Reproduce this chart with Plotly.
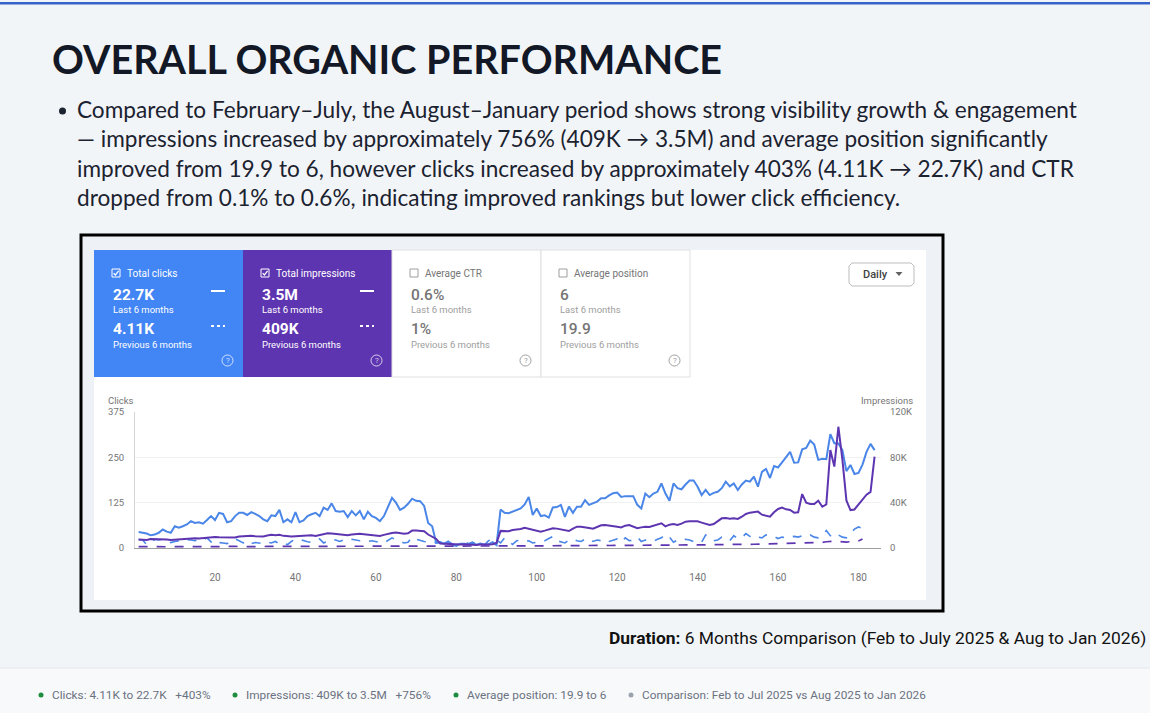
import plotly.graph_objects as go

W, H = 1150, 713

# ---- data (daily values) ----
clicks_now = [44, 42, 40, 35, 37, 42, 51, 45, 42, 60, 56, 60, 65, 74, 69, 71, 67, 77, 88, 77,
              97, 94, 71, 74, 88, 97, 97, 91, 99, 94, 88, 79, 74, 90, 88, 105, 71, 79, 71, 99,
              71, 76, 88, 93, 97, 88, 111, 105, 123, 102, 100, 102, 85, 102, 90, 102, 79, 100, 88, 83,
              74, 88, 111, 138, 125, 105, 111, 122, 136, 130, 129, 116, 69, 60, 14, 16, 12, 18, 9, 6,
              12, 12, 9, 14, 9, 12, 9, 10, 16, 8, 106, 97, 96, 100, 105, 109, 120, 141, 91, 109,
              88, 90, 84, 112, 113, 119, 86, 114, 97, 114, 114, 132, 119, 123, 128, 137, 137, 145, 151, 153,
              141, 143, 143, 143, 119, 109, 150, 140, 150, 155, 178, 150, 130, 178, 165, 162, 175, 186, 186, 169,
              146, 160, 146, 152, 155, 165, 183, 170, 178, 160, 175, 186, 183, 197, 169, 210, 218, 193, 226, 222,
              236, 252, 265, 235, 236, 272, 276, 296, 285, 243, 246, 245, 314, 289, 288, 270, 212, 229, 204, 207,
              230, 265, 287, 270]

impr_now_k = [7.4, 7.4, 7.1, 8.0, 8.0, 7.7, 7.4, 7.4, 7.1, 7.4, 7.7, 8.0, 8.3, 8.9, 8.6, 8.3, 8.6, 8.9, 9.8, 9.8,
              9.5, 9.5, 9.2, 8.9, 9.2, 10.1, 10.4, 10.7, 10.7, 10.4, 10.1, 10.1, 11.0, 11.6, 11.3, 11.6, 10.7, 10.1, 10.1, 10.4,
              10.7, 10.4, 10.7, 11.3, 10.7, 11.3, 12.5, 13.0, 12.8, 12.5, 12.2, 11.3, 11.3, 11.9, 12.5, 12.5, 12.2, 11.9, 11.3, 10.7,
              10.7, 11.6, 12.5, 13.3, 13.6, 13.0, 12.5, 13.0, 15.4, 15.4, 15.1, 14.8, 11.9, 10.1, 8.0, 3.9, 3.6, 3.3, 3.3, 3.0,
              3.0, 3.3, 3.0, 3.0, 2.7, 3.0, 2.7, 3.0, 3.3, 4.5, 15.1, 15.1, 14.8, 15.9, 16.2, 16.8, 17.9, 17.1, 16.5, 15.6,
              14.4, 15.3, 16.5, 17.4, 17.1, 16.2, 15.6, 15.0, 17.1, 18.8, 18.8, 18.5, 17.7, 17.0, 18.5, 20.0, 20.3, 20.0, 19.4, 18.8,
              18.2, 19.7, 20.3, 18.5, 17.4, 18.2, 18.8, 18.5, 19.4, 20.3, 21.8, 19.1, 20.6, 21.2, 20.3, 21.5, 23.2, 23.5, 23.8, 23.5,
              22.4, 21.5, 20.3, 21.2, 23.5, 26.2, 26.5, 25.9, 26.2, 25.6, 27.6, 30.0, 31.2, 31.5, 32.1, 29.4, 28.5, 27.6, 31.5, 34.4,
              35.6, 34.1, 33.5, 31.2, 31.5, 47.6, 40.0, 38.8, 38.8, 41.7, 36.4, 38.5, 86.5, 71.8, 107.0, 78.0, 42.0, 33.5, 34.0, 38.0,
              42.5, 47.0, 49.5, 80.6]

clicks_prev = [23, 22, 9, 14, 24, 22, 24, 20, 15, 18, 20, 22, 23, 22, 20, 24, 22, 28, 17, 9,
               15, 14, 12, 18, 25, 20, 14, 20, 12, 15, 13, 12, 16, 14, 18, 12, 15, 9, 18, 25,
               24, 20, 17, 16, 20, 25, 14, 20, 24, 22, 18, 22, 20, 24, 22, 20, 22, 18, 20, 17,
               15, 14, 20, 28, 22, 18, 14, 16, 30, 24, 20, 18, 16, 18, 14, 16, 12, 20, 10, 8,
               14, 18, 12, 16, 10, 14, 8, 20, 24, 22, 14, 28, 18, 10, 20, 22, 18, 20, 14, 16,
               18, 20, 26, 32, 20, 18, 14, 22, 25, 20, 18, 24, 26, 18, 22, 20, 24, 18, 22, 25,
               16, 28, 20, 22, 30, 18, 22, 20, 18, 24, 28, 38, 30, 16, 22, 20, 24, 22, 18, 20,
               16, 36, 28, 20, 22, 30, 24, 20, 34, 26, 28, 40, 32, 26, 30, 28, 36, 34, 32, 26,
               30, 28, 30, 32, 30, 34, 32, 36, 30, 28, 36, 48, 34, 28, 36, 30, 28, 40, 52, 58,
               54]

impr_prev_k = [1.2, 1.1, 1.0, 1.1, 1.2, 1.3, 1.2, 1.1, 1.1, 1.2, 1.3, 1.2, 1.2, 1.1, 1.2, 1.3, 1.3, 1.2, 1.3, 1.2,
               1.1, 1.2, 1.3, 1.3, 1.4, 1.3, 1.2, 1.3, 1.4, 1.3, 1.2, 1.3, 1.4, 1.4, 1.3, 1.3, 1.2, 1.3, 1.4, 1.4,
               1.5, 1.4, 1.3, 1.4, 1.5, 1.5, 1.4, 1.5, 1.6, 1.5, 1.4, 1.5, 1.5, 1.6, 1.5, 1.5, 1.4, 1.5, 1.6, 1.6,
               1.5, 1.5, 1.6, 1.7, 1.6, 1.6, 1.5, 1.6, 1.7, 1.7, 1.6, 1.6, 1.5, 1.6, 1.5, 1.4, 1.4, 1.3, 1.3, 1.2,
               1.2, 1.3, 1.3, 1.4, 1.4, 1.5, 1.5, 1.6, 1.7, 1.8, 1.7, 1.8, 1.9, 1.8, 1.7, 1.8, 1.9, 1.9, 1.8, 1.9,
               2.0, 1.9, 1.9, 2.0, 2.1, 2.0, 2.0, 2.1, 2.1, 2.2, 2.1, 2.1, 2.2, 2.2, 2.1, 2.2, 2.3, 2.2, 2.2, 2.3,
               2.3, 2.4, 2.3, 2.3, 2.4, 2.5, 2.4, 2.4, 2.5, 2.5, 2.6, 2.5, 2.5, 2.6, 2.7, 2.6, 2.6, 2.7, 2.8, 2.7,
               2.7, 2.8, 2.9, 2.8, 2.9, 3.0, 3.0, 3.1, 3.0, 3.1, 3.2, 3.3, 3.2, 3.3, 3.4, 3.5, 3.4, 3.6, 3.7, 3.8,
               3.9, 4.0, 4.1, 4.2, 4.3, 4.4, 4.3, 4.5, 4.7, 4.8, 5.0, 5.5, 5.9, 6.0, 5.8, 5.4, 5.2, 5.6, 6.0, 6.2,
               8.0]

x_ticks = [20, 40, 60, 80, 100, 120, 140, 160, 180]
clicks_ticks = [0, 125, 250, 375]
impr_ticks = [0, 40000, 80000, 120000]
impr_tick_text = ["0", "40K", "80K", "120K"]

cards = [
    # label, current, previous, bg, checked
    ("Total clicks", "22.7K", "4.11K", "#4285f4", True),
    ("Total impressions", "3.5M", "409K", "#5e35b1", True),
    ("Average CTR", "0.6%", "1%", "#ffffff", False),
    ("Average position", "6", "19.9", "#ffffff", False),
]

summary_lines = [
    "Compared to February–July, the August–January period shows strong visibility growth & engagement",
    "— impressions increased by approximately 756% (409K → 3.5M) and average position significantly",
    "improved from 19.9 to 6, however clicks increased by approximately 403% (4.11K → 22.7K) and CTR",
    "dropped from 0.1% to 0.6%, indicating improved rankings but lower click efficiency.",
]

footer_items = [
    ("Clicks: 4.11K to 22.7K   +403%", "#1e8e3e"),
    ("Impressions: 409K to 3.5M   +756%", "#1e8e3e"),
    ("Average position: 19.9 to 6", "#1e8e3e"),
    ("Comparison: Feb to Jul 2025 vs Aug 2025 to Jan 2026", "#9aa3ad"),
]


def px(x):
    return x / W


def py(y):
    return 1 - y / H


def path(points, close=False):
    s = "M " + " L ".join(f"{px(a):.5f},{py(b):.5f}" for a, b in points)
    return s + (" Z" if close else "")


days_now = list(range(1, len(clicks_now) + 1))
days_prev = list(range(1, len(clicks_prev) + 1))

fig = go.Figure()
fig.add_trace(go.Scatter(x=days_prev, y=[v * 1000 for v in impr_prev_k], yaxis="y2", mode="lines",
                         line=dict(color="#5e35b1", width=1.7, dash="dash")))
fig.add_trace(go.Scatter(x=days_prev, y=clicks_prev, mode="lines",
                         line=dict(color="#4a86e8", width=1.6, dash="dash")))
fig.add_trace(go.Scatter(x=days_now, y=[v * 1000 for v in impr_now_k], yaxis="y2", mode="lines",
                         line=dict(color="#5e35b1", width=2)))
fig.add_trace(go.Scatter(x=days_now, y=clicks_now, mode="lines",
                         line=dict(color="#4a86e8", width=2)))

shapes = []
ann = []


def rect(x0, y0, x1, y1, fill, line=None, lw=0, layer="below"):
    shapes.append(dict(type="rect", xref="paper", yref="paper", x0=px(x0), x1=px(x1), y0=py(y1), y1=py(y0),
                       fillcolor=fill, line=dict(color=line or fill, width=lw), layer=layer))


def text(x, y, s, size, color, anchor="left", family="Roboto, sans-serif", weight=None):
    f = dict(size=size, color=color, family=family)
    if weight:
        f["weight"] = weight
    ann.append(dict(x=px(x), y=py(y), xref="paper", yref="paper", text=s, showarrow=False,
                    xanchor=anchor, yanchor="middle", font=f))


# page
rect(0, 2, W, 4.5, "#3563c9")
rect(0, 668, W, H, "#f8f9fb")
shapes.append(dict(type="line", xref="paper", yref="paper", x0=0, x1=1, y0=py(668), y1=py(668),
                   line=dict(color="#e3e7ec", width=1), layer="below"))

# screenshot frame
rect(81, 235, 943, 611, "#eef1f5", "#000000", 3)
rect(94, 250, 926, 600, "#ffffff")

# metric cards
for i, (label, cur, prev, bg, checked) in enumerate(cards):
    x0 = 94 + i * 149
    fg = "#ffffff" if checked else "#757575"
    sub = "#ffffff" if checked else "#9e9e9e"
    rect(x0, 250, x0 + 149, 377, bg, "#e0e0e0" if not checked else bg, 1 if not checked else 0)
    # checkbox
    cb = "#ffffff" if checked else "#9e9e9e"
    rect(x0 + 18, 269, x0 + 26, 277, "rgba(0,0,0,0)", cb, 1, layer="above")
    if checked:
        shapes.append(dict(type="path", xref="paper", yref="paper",
                           path=path([(x0 + 19.6, 273.2), (x0 + 21.4, 275), (x0 + 24.6, 271)]),
                           line=dict(color="#ffffff", width=1.2), layer="above"))
    text(x0 + 31, 273, label, 10, fg)
    text(x0 + 17, 295, cur, 15.5, fg, weight=700 if checked else 500)
    text(x0 + 17, 309, "Last 6 months", 9.5, sub)
    text(x0 + 17, 329, prev, 15.5, fg, weight=700 if checked else 500)
    text(x0 + 17, 344, "Previous 6 months", 9.5, sub)
    if checked:
        shapes.append(dict(type="line", xref="paper", yref="paper", x0=px(x0 + 117), x1=px(x0 + 131),
                           y0=py(291), y1=py(291), line=dict(color="#ffffff", width=2), layer="above"))
        shapes.append(dict(type="line", xref="paper", yref="paper", x0=px(x0 + 117), x1=px(x0 + 131),
                           y0=py(326), y1=py(326), line=dict(color="#ffffff", width=2, dash="dot"),
                           layer="above"))
    qc = "rgba(255,255,255,0.75)" if checked else "#9e9e9e"
    shapes.append(dict(type="circle", xref="paper", yref="paper", x0=px(x0 + 128), x1=px(x0 + 139),
                       y0=py(366), y1=py(355), line=dict(color=qc, width=1), layer="above"))
    text(x0 + 133.5, 360.5, "?", 8, qc, anchor="center")

# "Daily" dropdown
shapes.append(dict(type="path", xref="paper", yref="paper",
                   path=path([(852, 263), (911, 263), (914, 266), (914, 283), (911, 286), (852, 286),
                              (849, 283), (849, 266)], close=True),
                   fillcolor="#ffffff", line=dict(color="#bdbdbd", width=1), layer="below"))
text(861, 274.5, "Daily", 11, "#424242", weight=500)
shapes.append(dict(type="path", xref="paper", yref="paper",
                   path=path([(895.5, 272), (902.5, 272), (899, 276)], close=True),
                   fillcolor="#616161", line=dict(color="#616161", width=0), layer="above"))

# axis titles
text(106, 400, "Clicks", 9.5, "#757575")
text(915, 400, "Impressions", 9.5, "#757575", anchor="right")

# headline and summary
text(50, 58, "OVERALL ORGANIC PERFORMANCE", 39.5, "#121826", family="Lato, sans-serif", weight=700)
for k, line in enumerate(summary_lines):
    text(75, 109 + k * 29.5, line, 22.6, "#1b2230", family="Lato, sans-serif")
shapes.append(dict(type="circle", xref="paper", yref="paper", x0=px(59), x1=px(66),
                   y0=py(114.5), y1=py(107.5), fillcolor="#1b2230", line=dict(width=0)))

text(1148, 638, "<b>Duration:</b> 6 Months Comparison (Feb to July 2025 & Aug to Jan 2026)", 17.4, "#111111",
     anchor="right", family="Roboto, sans-serif")

# footer
fx = [41, 235, 456, 631]
for (s, col), x in zip(footer_items, fx):
    shapes.append(dict(type="circle", xref="paper", yref="paper", x0=px(x - 2.5), x1=px(x + 2.5),
                       y0=py(697.5), y1=py(692.5), fillcolor=col, line=dict(width=0)))
    text(x + 9, 695, s, 11.8, "#6b7280", family="Roboto, sans-serif")

fig.update_layout(
    width=W, height=H,
    margin=dict(l=0, r=0, t=0, b=0, pad=0),
    paper_bgcolor="#f2f5f8",
    plot_bgcolor="#ffffff",
    showlegend=False,
    font=dict(family="Roboto, sans-serif", color="#757575", size=10),
    xaxis=dict(domain=[px(135), px(881)], range=[0.1, 185.6], tickvals=x_ticks, showgrid=False,
               zeroline=False, showline=True, linecolor="#9e9e9e", linewidth=1, ticks="",
               ticklabelstandoff=20, tickfont=dict(size=10, color="#757575"), automargin=False),
    yaxis=dict(domain=[py(548), py(412)], range=[0, 375], tickvals=clicks_ticks, gridcolor="#f1f1f1",
               zeroline=False, showline=True, linecolor="#d6d6d6", ticks="", ticklabelstandoff=8,
               tickfont=dict(size=9.5, color="#757575"), automargin=False),
    yaxis2=dict(overlaying="y", side="right", range=[0, 120000], tickvals=impr_ticks,
                ticktext=impr_tick_text, showgrid=False, zeroline=False, showline=False, ticks="",
                ticklabelstandoff=8, tickfont=dict(size=9.5, color="#757575"), automargin=False),
    shapes=shapes,
    annotations=ann,
)

fig.write_html("out.html", config={"displayModeBar": False},
               post_script="document.body.style.margin='0';")
